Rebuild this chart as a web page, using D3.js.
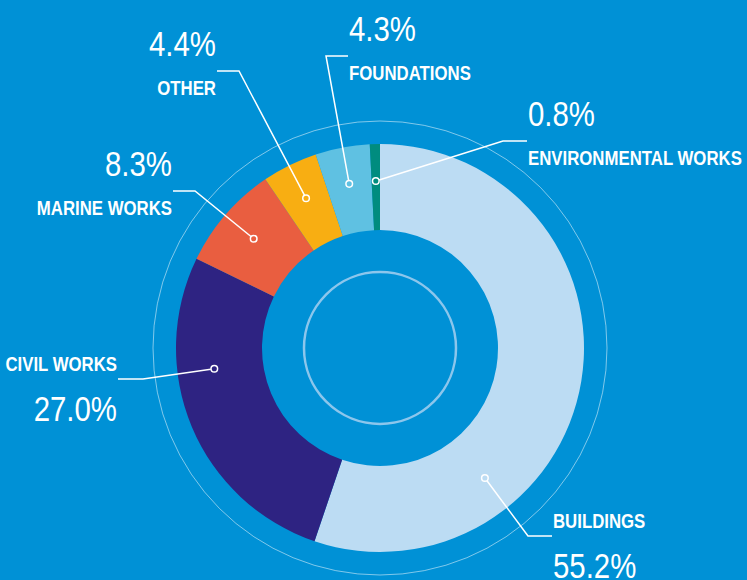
<!DOCTYPE html>
<meta charset="utf-8">
<style>
body{ margin:0; background:#0091d6; }
svg{ display:block; }
.lbl{ font-family:"Liberation Sans",Arial,sans-serif; font-weight:bold; font-size:20px; fill:#fff; }
.pct{ font-family:"Liberation Sans",Arial,sans-serif; font-weight:normal; font-size:35px; fill:#fff; }
</style>
<body>
<script src="https://cdn.jsdelivr.net/npm/d3@7"></script>
<script>

// data
var categories = ["BUILDINGS", "CIVIL WORKS", "MARINE WORKS", "OTHER", "FOUNDATIONS", "ENVIRONMENTAL WORKS"];
var shares = [55.2, 27.0, 8.3, 4.4, 4.3, 0.8];
var colors = ["#bcdcf3", "#2e2382", "#e95e40", "#f8ae12", "#5fc1e2", "#008c7f"];

// annotation layout: where the marker sits inside its slice (0..1), elbow point,
// end of the horizontal stub, and whether the name goes above the line
var annot = [
  {t: 0.71, ex: 528, ey: 536, hx: 552, nameAbove: true},
  {t: 0.66, ex: 143, ey: 379, hx: 118, nameAbove: true},
  {t: 0.5,  ex: 195, ey: 191, hx: 173, nameAbove: false},
  {t: 0.5,  ex: 239, ey: 71,  hx: 217, nameAbove: false},
  {t: 0.5,  ex: 326, ey: 56,  hx: 348, nameAbove: false},
  {t: 0.5,  ex: 503, ey: 141, hx: 527, nameAbove: false}
];

var width = 747, height = 580,
    cx = 380, cy = 348,
    rOuter = 204, rInner = 118, rMark = 167,
    squeeze = 0.84; // narrow the type like a condensed face

var svg = d3.select("body").append("svg")
    .attr("width", width)
    .attr("height", height);

svg.append("rect").attr("width", width).attr("height", height).attr("fill", "#0091d6");

var g = svg.append("g").attr("transform", "translate(" + cx + "," + cy + ")");

var rows = categories.map(function(c, i) { return {name: c, value: shares[i], color: colors[i], a: annot[i]}; });

var pie = d3.pie().sort(null).value(function(d) { return d.value; });
var arc = d3.arc().innerRadius(rInner).outerRadius(rOuter);

// thin outer ring
g.append("circle").attr("r", 227)
    .attr("fill", "none")
    .attr("stroke", "rgba(255,255,255,0.5)")
    .attr("stroke-width", 1);

var arcs = pie(rows);

g.selectAll("path.slice")
    .data(arcs)
  .enter().append("path")
    .attr("class", "slice")
    .attr("d", arc)
    .attr("fill", function(d) { return d.data.color; });

// inner ring
g.append("circle").attr("r", 76)
    .attr("fill", "none")
    .attr("stroke", "#8cc6ec")
    .attr("stroke-width", 2.5);

var fmt = d3.format(".1f");

arcs.forEach(function(d) {
  var a = d.data.a;
  var ang = d.startAngle + (d.endAngle - d.startAngle) * a.t;
  var mx = cx + rMark * Math.sin(ang), my = cy - rMark * Math.cos(ang);
  var ex = a.ex, ey = a.ey;
  // start the line at the edge of the marker
  var dx = ex - mx, dy = ey - my, len = Math.sqrt(dx * dx + dy * dy);
  var sx = mx + dx / len * 3.5, sy = my + dy / len * 3.5;

  svg.append("polyline")
      .attr("points", [[sx, sy], [ex, ey], [a.hx, ey]].map(function(p) { return p.join(","); }).join(" "))
      .attr("fill", "none")
      .attr("stroke", "#fff")
      .attr("stroke-width", 1.5);

  svg.append("circle")
      .attr("cx", mx).attr("cy", my).attr("r", 3.3)
      .attr("fill", d.data.color)
      .attr("stroke", "#fff")
      .attr("stroke-width", 1.5);

  var right = a.hx > ex;
  var tx = right ? a.hx + 1 : a.hx - 1;
  var anchor = right ? "start" : "end";
  var nameY = a.nameAbove ? ey - 8 : ey + 24;
  var pctY = a.nameAbove ? ey + 42 : ey - 15;

  svg.append("text").attr("class", "lbl")
      .attr("transform", "translate(" + tx + "," + nameY + ") scale(" + squeeze + ",1)")
      .attr("text-anchor", anchor)
      .text(d.data.name);

  svg.append("text").attr("class", "pct")
      .attr("transform", "translate(" + tx + "," + pctY + ") scale(" + squeeze + ",1)")
      .attr("text-anchor", anchor)
      .text(fmt(d.data.value) + "%");
});
</script>
